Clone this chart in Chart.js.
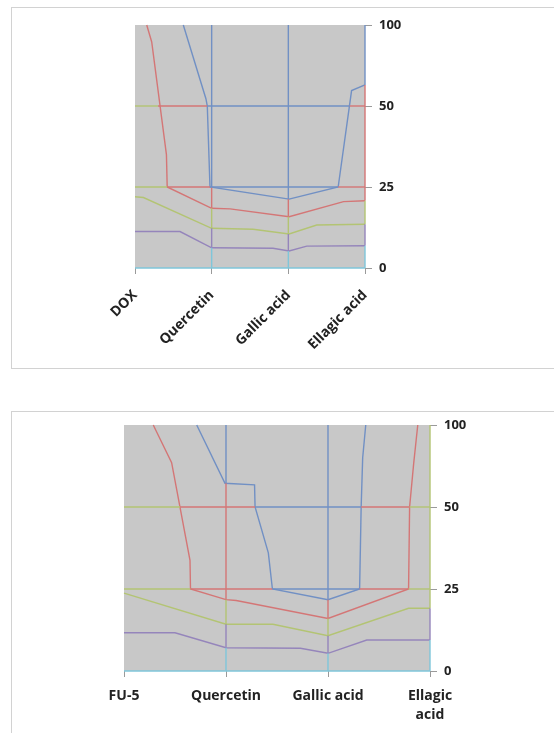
<!DOCTYPE html>
<html>
<head>
<meta charset="utf-8">
<script src="https://cdn.jsdelivr.net/npm/chart.js@4.4.1/dist/chart.umd.min.js"></script>
<style>
  body { margin: 0; background: #fff; width: 554px; height: 733px; overflow: hidden; position: relative; }
  .frame { position: absolute; border: 1px solid #d2d2d2; }
  #frameTop { left: 11px; top: 7px; width: 600px; height: 360px; }
  #frameBot { left: 11px; top: 411px; width: 600px; height: 400px; }
  canvas { position: absolute; left: 0; }
  #topChart { top: 0; }
  #botChart { top: 400px; }
</style>
</head>
<body>
<div class="frame" id="frameTop"></div>
<div class="frame" id="frameBot"></div>
<canvas id="topChart" width="554" height="380"></canvas>
<canvas id="botChart" width="554" height="333"></canvas>
<script>
// category / level labels
const topLabels = ['DOX', 'Quercetin', 'Gallic acid', 'Ellagic acid'];
const botLabels = ['FU-5', 'Quercetin', 'Gallic acid', ['Ellagic', 'acid']];
const levelLabels = ['0', '25', '50', '100'];

// x = category index, y = level index (0..3)
// --- top chart (DOX) contours
const topBlueX = [0.63, 0.925, 0.943, 0.978, 2.01, 2.65, 2.825, 3.0];
const topBlueY = [3.0, 2.09, 2.0, 1.0, 0.85, 1.0, 2.19, 2.26];
const topRedX = [0.153, 0.218, 0.41, 0.42, 1.0, 1.24, 2.01, 2.72, 3.0];
const topRedY = [3.0, 2.79, 1.40, 1.0, 0.737, 0.73, 0.633, 0.82, 0.83];
const topOliveX = [0, 0.11, 1.0, 1.54, 2.01, 2.37, 3.0];
const topOliveY = [0.88, 0.87, 0.49, 0.478, 0.42, 0.53, 0.54];
const topPurpleX = [0, 0.587, 1.0, 1.80, 2.01, 2.24, 3.0];
const topPurpleY = [0.45, 0.45, 0.25, 0.243, 0.21, 0.27, 0.275];

// top chart gridlines, split where the band changes
const topRow50 = [0, 0.30, 0.943, 2.80, 3.0];
const topRow50Bands = ['olive', 'red', 'blue', 'red'];
const topRow25 = [0, 0.42, 0.978, 2.65, 3.0];
const topRow25Bands = ['olive', 'red', 'blue', 'red'];
const topCol1 = [3, 1.0, 0.737, 0.49, 0.25, 0];
const topCol2 = [3, 0.85, 0.633, 0.42, 0.21, 0];
const topCol3 = [3, 2.26, 0.83, 0.54, 0.275, 0];
const topColBands = ['blue', 'red', 'olive', 'purple', 'cyan'];

// --- bottom chart (FU-5) contours
const botBlueX = [0.713, 0.99, 1.28, 1.285, 1.415, 1.455, 2.0, 2.31, 2.325, 2.34, 2.37];
const botBlueY = [3.0, 2.29, 2.27, 2.0, 1.44, 1.0, 0.87, 1.0, 2.0, 2.6, 3.0];
const botRedX = [0.287, 0.467, 0.647, 0.652, 1.0, 1.10, 2.0, 2.79, 2.80, 2.84, 2.88];
const botRedY = [3.0, 2.54, 1.35, 1.0, 0.87, 0.86, 0.64, 1.0, 2.0, 2.53, 3.0];
const botOliveX = [0, 1.0, 1.46, 2.0, 2.79, 3.0];
const botOliveY = [0.95, 0.57, 0.57, 0.43, 0.765, 0.765];
const botPurpleX = [0, 0.5, 1.0, 1.73, 2.0, 2.38, 3.0];
const botPurpleY = [0.467, 0.467, 0.284, 0.277, 0.216, 0.378, 0.378];

const botRow50 = [0, 0.55, 1.285, 2.325, 2.80, 3.0];
const botRow25 = [0, 0.652, 1.455, 2.31, 2.79, 3.0];
const botRowBands = ['olive', 'red', 'blue', 'red', 'olive'];
const botCol1 = [3, 2.29, 0.87, 0.57, 0.284, 0];
const botCol2 = [3, 0.87, 0.64, 0.43, 0.216, 0];
const botCol3 = [3, 0.765, 0.378, 0];
const botCol3Bands = ['olive', 'purple', 'cyan'];

const bandColor = {
  blue: '#7190c4',
  red: '#d47676',
  olive: '#b3c473',
  purple: '#9585bb',
  cyan: '#7fc6da'
};

function pts(xs, ys) {
  return xs.map((x, i) => ({ x: x, y: ys[i] }));
}

function line(xs, ys, color) {
  return { data: pts(xs, ys), borderColor: color, borderWidth: 1.4, showLine: true,
    pointRadius: 0, tension: 0, clip: false };
}

// a gridline whose pieces take the colour of the band they run through
function bandLine(xs, ys, bands) {
  return { data: pts(xs, ys), showLine: true, borderWidth: 1.4, pointRadius: 0,
    tension: 0, clip: false, borderColor: bandColor[bands[0]],
    segment: { borderColor: ctx => bandColor[bands[ctx.p0DataIndex]] } };
}

function row(xs, level, bands) {
  return bandLine(xs, xs.map(() => level), bands);
}

function col(ys, pos, bands) {
  return bandLine(ys.map(() => pos), ys, bands);
}

const plotBg = {
  id: 'plotBg',
  beforeDraw(chart) {
    const a = chart.chartArea;
    const ctx = chart.ctx;
    ctx.save();
    ctx.fillStyle = '#c8c8c8';
    ctx.fillRect(a.left, a.top, a.right - a.left, a.bottom - a.top);
    ctx.restore();
  }
};

function makeChart(id, datasets, cfg) {
  return new Chart(id, {
    type: 'scatter',
    data: { datasets: datasets },
    options: {
      responsive: false,
      animation: false,
      devicePixelRatio: 1,
      layout: { padding: cfg.padding },
      plugins: { legend: { display: false }, tooltip: { enabled: false } },
      scales: {
        x: {
          type: 'linear', min: 0, max: 3,
          afterFit(s) { s.height = cfg.xHeight; },
          ticks: {
            stepSize: 1, autoSkip: false,
            minRotation: cfg.rot, maxRotation: cfg.rot,
            padding: cfg.xPad, color: '#222',
            font: { family: 'Open Sans', weight: 'bold', size: 14, lineHeight: 1.4 },
            callback: v => cfg.labels[v]
          },
          grid: { drawOnChartArea: false, tickLength: 6, color: '#9a9a9a' },
          border: { display: false }
        },
        y: {
          type: 'linear', position: 'right', min: 0, max: 3,
          afterFit(s) { s.width = 60; },
          ticks: {
            stepSize: 1, padding: 7, color: '#222',
            font: { family: 'Open Sans', weight: 'bold', size: 13 },
            callback: v => levelLabels[v]
          },
          grid: { drawOnChartArea: false, tickLength: 7, color: '#9a9a9a' },
          border: { display: false }
        }
      }
    },
    plugins: [plotBg]
  });
}

makeChart('topChart', [
  row([0, 3], 0, ['cyan']),
  row(topRow25, 1, topRow25Bands),
  row(topRow50, 2, topRow50Bands),
  col(topCol1, 1, topColBands),
  col(topCol2, 2, topColBands),
  col(topCol3, 3, topColBands),
  line(topPurpleX, topPurpleY, bandColor.purple),
  line(topOliveX, topOliveY, bandColor.olive),
  line(topRedX, topRedY, bandColor.red),
  line(topBlueX, topBlueY, bandColor.blue)
], {
  labels: topLabels, rot: 45, xPad: 12, xHeight: 100,
  padding: { left: 135, top: 25, right: 129, bottom: 12 }
});

makeChart('botChart', [
  row([0, 3], 0, ['cyan']),
  row(botRow25, 1, botRowBands),
  row(botRow50, 2, botRowBands),
  col(botCol1, 1, topColBands),
  col(botCol2, 2, topColBands),
  col(botCol3, 3, botCol3Bands),
  line(botPurpleX, botPurpleY, bandColor.purple),
  line(botOliveX, botOliveY, bandColor.olive),
  line(botRedX, botRedY, bandColor.red),
  line(botBlueX, botBlueY, bandColor.blue)
], {
  labels: botLabels, rot: 0, xPad: 9, xHeight: 55,
  padding: { left: 124, top: 25, right: 64, bottom: 7 }
});
</script>
</body>
</html>
